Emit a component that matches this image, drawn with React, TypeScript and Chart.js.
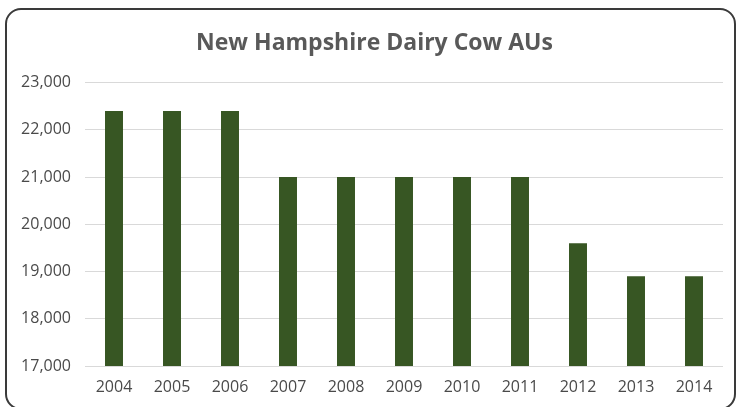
import React, { useEffect, useRef } from "react";
import { Chart, registerables } from "chart.js";

Chart.register(...registerables);

// Dairy cow animal units per year
const years = ["2004", "2005", "2006", "2007", "2008", "2009", "2010", "2011", "2012", "2013", "2014"];
const dairyCowAUs = [22400, 22400, 22400, 21000, 21000, 21000, 21000, 21000, 19600, 18900, 18900];
const yMin = 17000;
const yMax = 23000;
const yStep = 1000;

const chartTitle = "New Hampshire Dairy Cow AUs";
const textColor = "#4a4a4a";
const titleColor = "#595959";
const barColor = "#375623";
const titleFont = { family: "Open Sans", size: 23, weight: "bold" as const };

// The built-in title reserves the space at the top; this plugin paints the
// text itself, centred a little right of the canvas middle (over the frame).
const centredTitle = {
  id: "centredTitle",
  afterDraw(chart: any) {
    const block = chart.titleBlock;
    if (!block) return;
    const { ctx } = chart;
    const pad = block.options.padding;
    const lineHeight = titleFont.size * 1.2;
    const cy = block.top + (typeof pad === "object" ? pad.top : pad) + lineHeight / 2;
    ctx.save();
    ctx.font = `${titleFont.weight} ${titleFont.size}px "${titleFont.family}"`;
    ctx.fillStyle = titleColor;
    ctx.textAlign = "center";
    ctx.textBaseline = "middle";
    ctx.fillText(chartTitle, chart.width / 2 + 5, cy);
    ctx.restore();
  },
};

export default function App() {
  const canvasRef = useRef<HTMLCanvasElement>(null);

  useEffect(() => {
    const tickFont = { family: "Open Sans", size: 16 };
    const chart = new Chart(canvasRef.current!, {
      type: "bar",
      data: {
        labels: years,
        datasets: [
          {
            data: dairyCowAUs,
            backgroundColor: barColor,
            barPercentage: 0.31,
            categoryPercentage: 1,
          },
        ],
      },
      options: {
        animation: false,
        responsive: false,
        layout: { padding: { left: 0, right: 16, top: 0, bottom: 0 } },
        plugins: {
          legend: { display: false },
          tooltip: { enabled: false },
          title: {
            display: true,
            text: chartTitle,
            color: "rgba(0,0,0,0)",
            font: titleFont,
            padding: { top: 30, bottom: 25 },
          },
        },
        scales: {
          x: {
            grid: { display: false },
            border: { display: false },
            ticks: { color: textColor, font: tickFont, padding: 4 },
            afterFit: (scale: any) => {
              scale.height = 41;
            },
          },
          y: {
            min: yMin,
            max: yMax,
            grid: { color: "#d9d9d9", drawTicks: false, lineWidth: 1 },
            border: { display: false },
            ticks: {
              stepSize: yStep,
              padding: 14,
              color: textColor,
              font: tickFont,
              callback: (v: any) => Number(v).toLocaleString("en-US"),
            },
            afterFit: (scale: any) => {
              scale.width = 85;
            },
          },
        },
      },
      plugins: [centredTitle],
    });
    return () => chart.destroy();
  }, []);

  return (
    <div style={{ position: "fixed", left: 0, top: 0, width: 739, height: 407, overflow: "hidden", background: "#fff" }}>
      <canvas ref={canvasRef} width={739} height={407} style={{ display: "block", position: "absolute", left: 0, top: 0 }} />
      <div
        style={{
          position: "absolute",
          left: 5,
          top: 8,
          width: 731,
          height: 402,
          border: "2px solid #3a3a3a",
          borderRadius: 16,
          boxSizing: "border-box",
          pointerEvents: "none",
        }}
      />
    </div>
  );
}
